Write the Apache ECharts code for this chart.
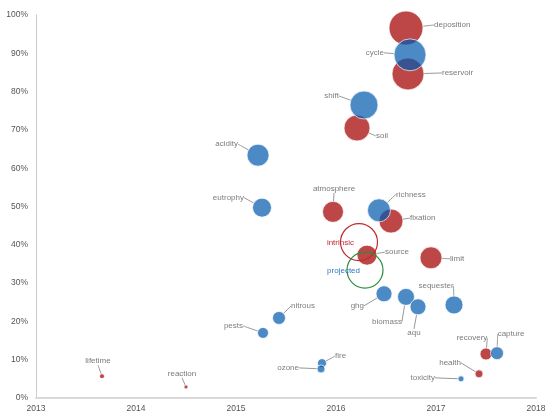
<!DOCTYPE html>
<html>
<head>
<meta charset="utf-8">
<script src="https://cdn.jsdelivr.net/npm/echarts@6/dist/echarts.min.js"></script>
<style>
html,body{margin:0;padding:0;background:#fff;}
#chart{width:550px;height:418px;}
</style>
</head>
<body>
<div id="chart"></div>
<script>
// ---- data ----
const names   = ['deposition','cycle','reservoir','shift','soil','acidity','eutrophy','atmosphere','richness','fixation','source','limit','ghg','biomass','aqu','sequester','nitrous','pests','fire','ozone','lifetime','reaction','recovery','capture','health','toxicity'];
const years   = [2016.70,2016.74,2016.72,2016.28,2016.21,2015.22,2015.26,2015.97,2016.43,2016.55,2016.31,2016.95,2016.48,2016.70,2016.82,2017.18,2015.43,2015.27,2015.86,2015.85,2013.66,2014.50,2017.50,2017.61,2017.43,2017.25];
const shares  = [0.966,0.896,0.846,0.765,0.705,0.634,0.497,0.486,0.490,0.462,0.373,0.366,0.272,0.264,0.238,0.243,0.209,0.170,0.091,0.076,0.057,0.029,0.115,0.117,0.063,0.050];
const weights = [289,256,256,196,169,121,90,110,132,144,100,121,64,72,64,81,42,30,20,16,6,4,36,42,16,9];
const groups  = ['r','b','r','b','r','b','b','r','b','r','r','r','b','b','b','b','b','b','b','b','r','r','r','b','r','b'];

const ringNames   = ['intrinsic','projected'];
const ringYears   = [2016.23,2016.29];
const ringShares  = [0.407,0.334];
const ringWeights = [342,324];

const xTicks = [2013,2014,2015,2016,2017,2018];

// ---- styles ----
const ringStroke = {intrinsic:'#c0282e', projected:'#2e8b3e'};
const ringText   = {intrinsic:'#c0282e', projected:'#2f78c0'};

// ---- label layout (offset from bubble centre, alignment) ----
const labelPlace = {
  deposition:[28,-3,'left'], cycle:[-26,-2,'right'], reservoir:[34,-1,'left'],
  shift:[-25,-9,'right'], soil:[19,8,'left'], acidity:[-20,-11,'right'],
  eutrophy:[-18,-10,'right'], atmosphere:[1,-23,'center'], richness:[17,-16,'left'],
  fixation:[19,-3,'left'], source:[18,-3,'left'], limit:[19,1,'left'],
  ghg:[-20,12,'right'], biomass:[-19,25,'center'], aqu:[-4,26,'center'],
  sequester:[-18,-19,'center'], nitrous:[12,-12,'left'], pests:[-20,-7,'right'],
  fire:[13,-7,'left'], ozone:[-22,-1,'right'], lifetime:[-4,-15,'center'],
  reaction:[-4,-13,'center'], recovery:[-14,-16,'center'], capture:[14,-19,'center'],
  health:[-18,-11,'right'], toxicity:[-26,-1,'right'],
  intrinsic:[-5,1,'right'], projected:[-5,1,'right']
};

function layoutFn(p){
  const o = labelPlace[p.text] || [0,0,'center'];
  return {
    x: p.rect.x + p.rect.width/2 + o[0],
    y: p.rect.y + p.rect.height/2 + o[1],
    align: o[2],
    verticalAlign: 'middle'
  };
}

function build(g){
  const out = [];
  names.forEach((n,i)=>{ if(groups[i]===g) out.push({name:n, value:[years[i], shares[i], weights[i]]}); });
  return out;
}
const ringData = ringNames.map((n,i)=>({
  name:n, value:[ringYears[i], ringShares[i], ringWeights[i]],
  itemStyle:{borderColor:ringStroke[n]},
  label:{color:ringText[n]}
}));

const sizeFn = v => 2*Math.sqrt(v[2]);
const FONT = 'Liberation Sans, Arial, sans-serif';

const bubbleLabel = {show:true, formatter:'{b}', fontSize:8, color:'#444', fontFamily:FONT};
const bubbleLine = {show:true, smooth:0.3, lineStyle:{color:'#999', width:1}};

const chart = echarts.init(document.getElementById('chart'), null, {renderer:'canvas'});
chart.setOption({
  animation:false,
  backgroundColor:'#fff',
  grid:{left:36, right:14, top:15, bottom:20, containLabel:false},
  xAxis:{
    type:'value', min:xTicks[0], max:xTicks[xTicks.length-1], interval:1,
    axisLine:{show:true, lineStyle:{color:'#d9d9d9', width:2}},
    axisTick:{show:false}, splitLine:{show:false},
    axisLabel:{formatter:v=>String(v), color:'#555', fontSize:8.5, fontFamily:FONT, margin:6}
  },
  yAxis:{
    type:'value', min:0, max:1, interval:0.1,
    axisLine:{show:true, lineStyle:{color:'#ccc', width:1}},
    axisTick:{show:false}, splitLine:{show:false},
    axisLabel:{formatter:v=>Math.round(v*100)+'%', color:'#555', fontSize:8.5, fontFamily:FONT, margin:8}
  },
  series:[
    {
      type:'scatter', name:'red', data:build('r'), symbolSize:sizeFn,
      itemStyle:{color:'#a40000', opacity:0.72, borderColor:'#fff', borderWidth:1},
      label:bubbleLabel, labelLine:bubbleLine, labelLayout:layoutFn,
      emphasis:{disabled:true}
    },
    {
      type:'scatter', name:'blue', data:build('b'), symbolSize:sizeFn,
      itemStyle:{color:'#0058ae', opacity:0.7, borderColor:'#fff', borderWidth:1},
      label:bubbleLabel, labelLine:bubbleLine, labelLayout:layoutFn,
      emphasis:{disabled:true}
    },
    {
      type:'scatter', name:'rings', data:ringData, symbolSize:sizeFn,
      itemStyle:{color:'rgba(255,255,255,0)', borderWidth:1.2, opacity:1},
      label:{show:true, formatter:'{b}', fontSize:8, fontFamily:FONT},
      labelLine:{show:false}, labelLayout:layoutFn,
      emphasis:{disabled:true}
    }
  ]
});
</script>
</body>
</html>
